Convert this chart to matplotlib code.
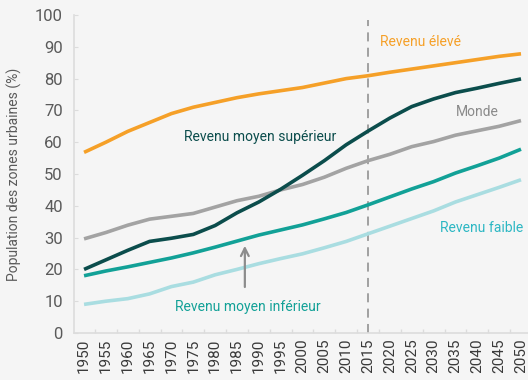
import matplotlib
matplotlib.use("Agg")
import matplotlib.pyplot as plt
import numpy as np

years = list(range(1950, 2051, 5))

revenu_eleve = [56.8, 60.0, 63.4, 66.2, 69.0, 71.0, 72.5, 74.0, 75.2, 76.2, 77.2,
                78.6, 80.0, 80.9, 82.0, 83.0, 84.0, 85.0, 86.0, 87.0, 87.8]
revenu_moyen_sup = [20.0, 23.0, 26.0, 28.8, 29.8, 31.0, 33.8, 37.8, 41.2, 45.2, 49.6,
                    54.2, 59.2, 63.5, 67.6, 71.2, 73.6, 75.6, 77.0, 78.5, 79.9]
monde = [29.6, 31.6, 33.9, 35.8, 36.7, 37.6, 39.6, 41.6, 43.0, 45.0, 46.7,
         49.0, 51.8, 54.2, 56.2, 58.6, 60.2, 62.2, 63.6, 65.0, 66.8]
revenu_moyen_inf = [18.0, 19.5, 20.8, 22.2, 23.6, 25.2, 27.0, 28.9, 30.8, 32.4, 34.0,
                    35.9, 37.9, 40.3, 42.8, 45.3, 47.6, 50.3, 52.6, 55.0, 57.8]
revenu_faible = [9.0, 10.0, 10.8, 12.3, 14.6, 16.0, 18.3, 20.0, 21.8, 23.4, 24.9,
                 26.8, 28.8, 31.2, 33.6, 36.0, 38.4, 41.2, 43.5, 45.8, 48.2]

y_ticks = list(range(0, 101, 10))
projection_year = 2015

plt.rcParams['font.family'] = ['Roboto', 'DejaVu Sans']

bg = '#f5f5f5'
fig = plt.figure(figsize=(5.28, 3.80), dpi=100, facecolor=bg)
ax = fig.add_axes([74 / 528, 1 - 333 / 380, 454 / 528, 318 / 380], facecolor=bg)

c_eleve = '#f5a028'
c_sup = '#0b4d4c'
c_monde = '#a3a3a3'
c_inf = '#12a197'
c_faible = '#a9dde1'

lw = 2.6
ax.plot(years, revenu_faible, color=c_faible, lw=lw, solid_capstyle='butt', zorder=3)
ax.plot(years, revenu_moyen_inf, color=c_inf, lw=lw, solid_capstyle='butt', zorder=3)
ax.plot(years, monde, color=c_monde, lw=lw, solid_capstyle='butt', zorder=3)
ax.plot(years, revenu_moyen_sup, color=c_sup, lw=lw, solid_capstyle='butt', zorder=4)
ax.plot(years, revenu_eleve, color=c_eleve, lw=lw, solid_capstyle='butt', zorder=3)

ax.plot([projection_year, projection_year], [0, 98.5], color='#9a9a9a', lw=1.3,
        dashes=(5, 3.5), zorder=2)

ax.set_xlim(1947.7, 2051.6)
ax.set_ylim(0, 100)

fs = 10
ax.text(2027, 91.5, 'Revenu élevé', color=c_eleve, fontsize=fs, ha='center', va='center')
ax.text(2040, 69.4, 'Monde', color='#8a8a8a', fontsize=fs, ha='center', va='center')
ax.text(1990.3, 61.5, 'Revenu moyen supérieur', color=c_sup, fontsize=fs, ha='center', va='center')
ax.text(2041, 33.0, 'Revenu faible', color='#2cb7c3', fontsize=fs, ha='center', va='center')
ax.text(1987.5, 8.3, 'Revenu moyen inférieur', color=c_inf, fontsize=fs, ha='center', va='center')
ax.annotate('', xy=(1986.8, 28.3), xytext=(1986.8, 13.6),
            arrowprops=dict(arrowstyle='->', color='#8c8c8c', lw=1.6,
                            mutation_scale=14))

ax.set_yticks(y_ticks)
ax.set_yticklabels([str(v) for v in y_ticks])
ax.set_xticks(years)
ax.set_xticklabels([str(y) for y in years], rotation=90)
ax.set_xticks([y + 2.5 for y in years[:-1]], minor=True)

ax.tick_params(axis='x', which='major', length=0, pad=4, labelsize=11, labelcolor='#3a3a3a')
ax.tick_params(axis='x', which='minor', direction='in', length=3, color='#dcdcdc', width=1)
ax.tick_params(axis='y', which='major', direction='in', length=3, color='#dcdcdc',
               pad=8, labelsize=12, labelcolor='#5a5a5a')

for side in ('top', 'right'):
    ax.spines[side].set_visible(False)
for side in ('left', 'bottom'):
    ax.spines[side].set_color('#dcdcdc')
    ax.spines[side].set_linewidth(1.2)

fig.text(14 / 528, 1 - 174 / 380, 'Population des zones urbaines (%)', rotation=90,
         ha='center', va='center', fontsize=10, color='#5a5a5a')

fig.savefig('out.png', dpi=100, facecolor=bg)
